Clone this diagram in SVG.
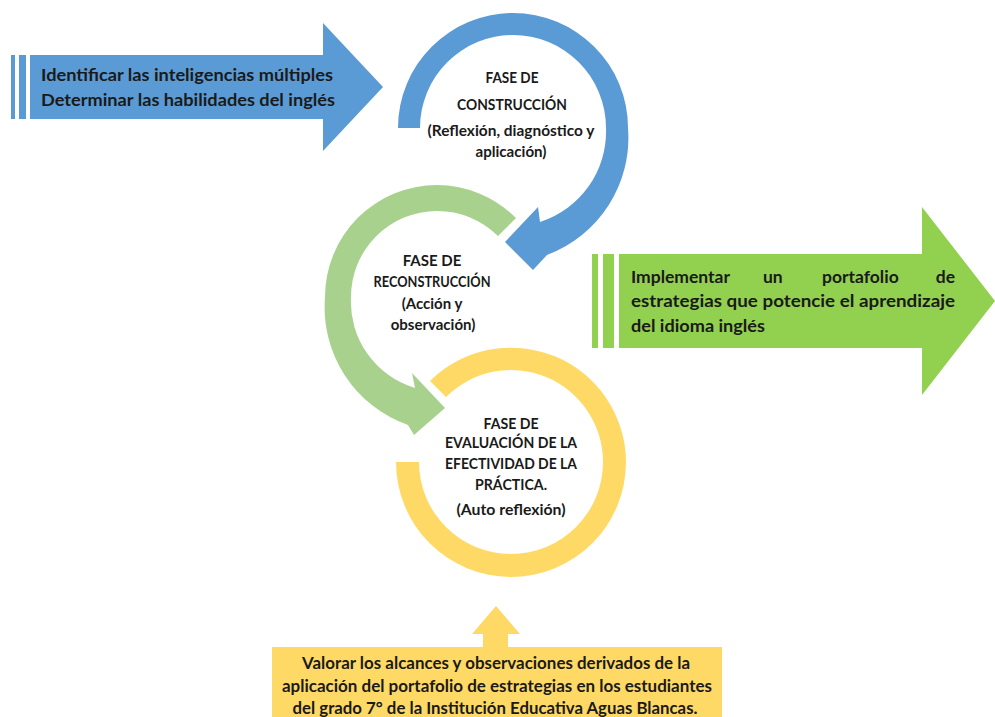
<svg xmlns="http://www.w3.org/2000/svg" width="995" height="717" viewBox="0 0 995 717">
<style>
  .t { font-family: Lato, "Open Sans", "Liberation Sans", sans-serif; font-weight: bold; fill: #1a1a1a; }
  .big { font-size: 17.5px; }
  .sm { font-size: 15px; }
  .mid { text-anchor: middle; }
  .blue { fill: #5B9BD5; }
  .lgreen { fill: #A9D18E; }
  .green { fill: #92D050; }
  .yellow { fill: #FFD966; }
</style>
<rect width="995" height="717" fill="#ffffff"/>

<g id="connectors">
  <polygon class="yellow" points="496,606 520,634 508,634 508,648 483,648 483,634 472,634"/>
</g>

<g id="node-identificar">
  <rect class="blue" x="11" y="55" width="4" height="64"/>
  <rect class="blue" x="19" y="55" width="7" height="64"/>
  <polygon class="blue" points="30,55 323,55 323,23 383,87 323,151 323,119 30,119"/>
  <text class="t big" x="41" y="81" textLength="292" lengthAdjust="spacingAndGlyphs">Identificar las inteligencias múltiples</text>
  <text class="t big" x="41" y="106" textLength="294" lengthAdjust="spacingAndGlyphs">Determinar las habilidades del inglés</text>
</g>

<g id="node-construccion">
  <path class="blue" d="M 420,128 L 398,128 A 115 115 0 0 1 513,13 A 115 115 0 0 1 628,128 A 125 125 0 0 1 547,255 L 533,270 L 505,242 L 538,207 L 540,222 A 95 95 0 0 0 606,128 A 93 93 0 0 0 513,35 A 93 93 0 0 0 420,128 Z"/>
  <text class="t sm mid" x="512" y="83" textLength="53" lengthAdjust="spacingAndGlyphs">FASE DE</text>
  <text class="t sm mid" x="512" y="110" textLength="110" lengthAdjust="spacingAndGlyphs">CONSTRUCCIÓN</text>
  <text class="t sm mid" x="511" y="136" textLength="167" lengthAdjust="spacingAndGlyphs">(Reflexión, diagnóstico y</text>
  <text class="t sm mid" x="511" y="157" textLength="71" lengthAdjust="spacingAndGlyphs">aplicación)</text>
</g>

<g id="node-reconstruccion">
  <path class="lgreen" d="M 498,236 L 516,218 A 112 112 0 0 0 437,185 A 112 112 0 0 0 325,297 A 125 125 0 0 0 408,425 L 414,435 L 445,408 L 412,373 L 415,388 A 90 90 0 0 1 351,297 A 86 86 0 0 1 437,211 A 86 86 0 0 1 498,236 Z"/>
  <text class="t sm mid" x="432" y="266">FASE DE</text>
  <text class="t sm mid" x="432" y="287" textLength="117" lengthAdjust="spacingAndGlyphs">RECONSTRUCCIÓN</text>
  <text class="t sm mid" x="432" y="309">(Acción y</text>
  <text class="t sm mid" x="433" y="330">observación)</text>
</g>

<g id="node-evaluacion">
  <path class="yellow" d="M 446,397 L 430,381 A 115 115 0 0 1 626,462 A 115 115 0 0 1 511,577 A 115 115 0 0 1 396,462 L 419,462 A 92 92 0 0 0 511,554 A 92 92 0 0 0 603,462 A 92 92 0 0 0 446,397 Z"/>
  <text class="t sm mid" x="511" y="429" textLength="55" lengthAdjust="spacingAndGlyphs">FASE DE</text>
  <text class="t sm mid" x="511" y="448" textLength="132" lengthAdjust="spacingAndGlyphs">EVALUACIÓN DE LA</text>
  <text class="t sm mid" x="511" y="469" textLength="132" lengthAdjust="spacingAndGlyphs">EFECTIVIDAD DE LA</text>
  <text class="t sm mid" x="511" y="490" textLength="72" lengthAdjust="spacingAndGlyphs">PRÁCTICA.</text>
  <text class="t sm mid" x="511" y="515" textLength="109" lengthAdjust="spacingAndGlyphs">(Auto reflexión)</text>
</g>

<g id="node-implementar">
  <rect class="green" x="592" y="254" width="6" height="94"/>
  <rect class="green" x="603" y="254" width="11" height="94"/>
  <polygon class="green" points="619,254 922,254 922,207 995,301 922,395 922,348 619,348"/>
  <text class="t big" x="631" y="283">Implementar</text>
  <text class="t big" x="763" y="283">un</text>
  <text class="t big" x="822" y="283">portafolio</text>
  <text class="t big" x="955" y="283" text-anchor="end">de</text>
  <text class="t big" x="631" y="307" textLength="324" lengthAdjust="spacingAndGlyphs">estrategias que potencie el aprendizaje</text>
  <text class="t big" x="631" y="332" textLength="134" lengthAdjust="spacingAndGlyphs">del idioma inglés</text>
</g>

<g id="node-valorar">
  <rect class="yellow" x="272" y="647" width="450" height="72"/>
  <text class="t big mid" x="496" y="669" textLength="388" lengthAdjust="spacingAndGlyphs">Valorar los alcances y observaciones derivados de la</text>
  <text class="t big mid" x="497" y="692" textLength="430" lengthAdjust="spacingAndGlyphs">aplicación del portafolio de estrategias en los estudiantes</text>
  <text class="t big mid" x="495" y="714" textLength="405" lengthAdjust="spacingAndGlyphs">del grado 7° de la Institución Educativa Aguas Blancas.</text>
</g>
</svg>
